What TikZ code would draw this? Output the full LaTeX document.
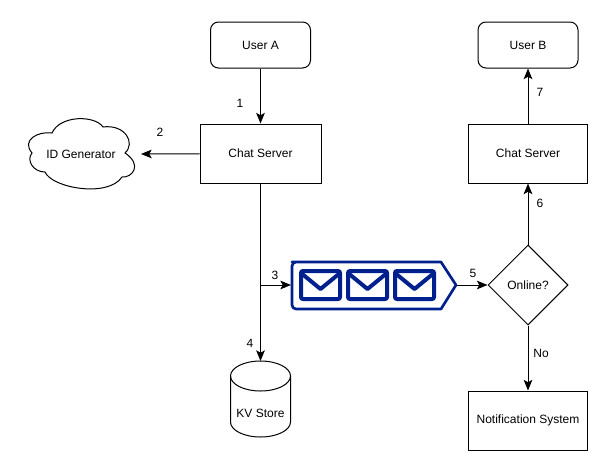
\documentclass[tikz,border=0pt]{standalone}
\usepackage{fontspec}
\setmainfont{Liberation Sans}
\usetikzlibrary{arrows.meta,shapes.geometric}
\definecolor{queueblue}{RGB}{0,32,142}
\tikzset{
  box/.style={draw,minimum width=#1*0.75pt,minimum height=59*0.75pt,inner sep=0pt},
  userbox/.style={draw,rounded corners=6pt,minimum width=100*0.75pt,minimum height=46*0.75pt,inner sep=0pt},
  decision/.style={draw,diamond,aspect=1,minimum width=80*0.75pt,minimum height=80*0.75pt,inner sep=0pt},
  hidden/.style={inner sep=0pt,outer sep=0pt},
  link/.style={-{Stealth[length=8pt,width=6.5pt,inset=1.8pt]},line width=0.75pt},
  step label/.style={inner sep=0pt}
}
\begin{document}
\begin{tikzpicture}[x=0.75pt,y=-0.75pt,font=\fontsize{9}{11}\selectfont,line width=0.75pt]
\useasboundingbox (0,0) rectangle (609,471);
% top row
\node [userbox] (usera) at (260.5,45) {User A};
\node [userbox] (userb) at (528,45) {User B};
\node [box=121] (chata) at (260.5,153.5) {Chat Server};
\node [box=119] (chatb) at (528,153.5) {Chat Server};
% cloud, drawn by hand
\draw (52,133) .. controls (38,131) and (21,140) .. (32,153)
  .. controls (26,160) and (33,172) .. (45,172)
  .. controls (52,188) and (108,198) .. (122,177)
  .. controls (132,178) and (143,165) .. (125,153)
  .. controls (136,143) and (125,124) .. (103,127)
  .. controls (95,115) and (60,115) .. (52,133) -- cycle;
\node [hidden,minimum width=120*0.75pt,minimum height=20*0.75pt] (idgen) at (81,154) {ID Generator};
% queue
\node [hidden,minimum width=166*0.75pt,minimum height=48*0.75pt] (queue) at (374,285) {};
\draw [queueblue,line width=2pt,line join=round]
  (456,285) -- (441,309) -- (296,309) [rounded corners=3pt] -- (292,309) -- (292,262) -- (296,262) [sharp corners] -- (441,262) -- cycle;
\foreach \x in {301,348,395} {
  \draw [queueblue,line width=3pt,rounded corners=1.5pt] (\x,271) rectangle (\x+39,299);
  \draw [queueblue,line width=3pt,line join=round] (\x,273) -- (\x+19.5,289) -- (\x+39,273);
}
\node [decision] (online) at (528,285) {Online?};
% store, drawn by hand
\draw (230.5,376) -- (230.5,422) arc [start angle=180,end angle=0,x radius=30,y radius=15] -- (290.5,376);
\draw (260.5,376) ellipse [x radius=30,y radius=15];
\node [hidden,minimum width=60*0.75pt,minimum height=76*0.75pt] (kv) at (260.5,399) {};
\node [hidden] (kvtext) at (260.5,413) {KV Store};
\node [box=119] (notif) at (528,420.5) {Notification System};
\coordinate (tap) at (chata.south |- queue.west);
% connectors
\draw [link] (usera) -- (chata);
\draw [link] (chata) -- (idgen.east);
\draw [link] (chata) -- (kv.north);
\draw [link] (tap) -- (queue.west);
\draw [link] (queue.east) -- (online.west);
\draw [link] (online) -- (chatb);
\draw [link] (chatb) -- (userb);
\draw [link] (online) -- (notif);
% labels
\node [step label] (lone) at (240,103) {1};
\node [step label] (ltwo) at (160,132) {2};
\node [step label] (lthree) at (275,275) {3};
\node [step label] (lfour) at (250,343) {4};
\node [step label] (lfive) at (473,273) {5};
\node [step label] (lsix) at (540,203) {6};
\node [step label] (lseven) at (540,92) {7};
\node [step label] (lno) at (541,353) {No};
\end{tikzpicture}
\end{document}
